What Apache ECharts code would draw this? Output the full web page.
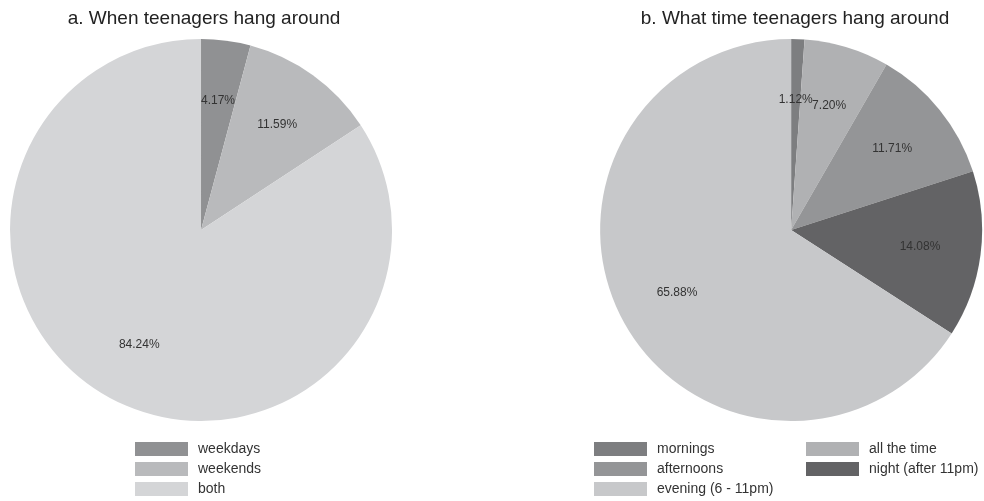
<!DOCTYPE html>
<html>
<head>
<meta charset="utf-8">
<script src="https://cdn.jsdelivr.net/npm/echarts@6/dist/echarts.min.js"></script>
<style>html,body{margin:0;padding:0;background:#fff}#c{width:984px;height:501px}</style>
</head>
<body>
<div id="c"></div>
<script>
const titleA = 'a. When teenagers hang around';
const titleB = 'b. What time teenagers hang around';
const catsA = ['weekdays', 'weekends', 'both'];
const valsA = [4.17, 11.59, 84.24];
const colorsA = ['#909193', '#b9babc', '#d4d5d7'];
const catsB = ['mornings', 'all the time', 'afternoons', 'night (after 11pm)', 'evening (6 - 11pm)'];
const valsB = [1.12, 7.20, 11.71, 14.08, 65.88];
const colorsB = ['#7d7e80', '#b0b1b3', '#949597', '#636365', '#c7c8ca'];
const legendBCol1 = ['mornings', 'afternoons', 'evening (6 - 11pm)'];
const legendBCol2 = ['all the time', 'night (after 11pm)'];

const FONT = '"Liberation Sans", Arial, sans-serif';
function mainData(cats, vals, colors) {
  return cats.map((n, i) => ({ name: n, value: vals[i], itemStyle: { color: colors[i] } }));
}
function labelData(cats, vals) {
  return cats.map((n, i) => ({ name: n, value: vals[i] }));
}
function legendItems(names, cats, colors) {
  return names.map(n => ({ name: n, itemStyle: { color: colors[cats.indexOf(n)] } }));
}
const legendBase = {
  orient: 'vertical', itemWidth: 53, itemHeight: 14, itemGap: 6, icon: 'rect',
  selectedMode: false, padding: 0, height: 60,
  textStyle: { fontFamily: FONT, fontSize: 14, color: '#333', padding: [0, 0, 0, 5] }
};
const mainPie = (center, data) => ({
  type: 'pie', center: center, radius: [0, 191], startAngle: 90, clockwise: true,
  silent: true, label: { show: false }, labelLine: { show: false },
  itemStyle: { borderWidth: 0 }, data: data, animation: false
});
const labelPie = (center, data) => ({
  type: 'pie', center: center, radius: [63, 191], startAngle: 90, clockwise: true,
  silent: true, legendHoverLink: false, avoidLabelOverlap: false,
  minShowLabelAngle: 0,
  itemStyle: { color: 'rgba(0,0,0,0)', borderWidth: 0 },
  label: { show: true, position: 'inside', fontFamily: FONT, fontSize: 12, color: '#333',
    overflow: 'none', formatter: p => p.value.toFixed(2) + '%' },
  labelLayout: { hideOverlap: false },
  labelLine: { show: false }, data: data, animation: false
});

const chart = echarts.init(document.getElementById('c'));
chart.setOption({
  backgroundColor: '#fff',
  animation: false,
  title: [
    { text: titleA, left: 199, top: 4, textAlign: 'center',
      textStyle: { fontFamily: FONT, fontSize: 19, fontWeight: 'normal', color: '#222' } },
    { text: titleB, left: 790, top: 4, textAlign: 'center',
      textStyle: { fontFamily: FONT, fontSize: 19, fontWeight: 'normal', color: '#222' } }
  ],
  legend: [
    Object.assign({}, legendBase, { left: 135, top: 442, data: legendItems(catsA, catsA, colorsA) }),
    Object.assign({}, legendBase, { left: 594, top: 442, data: legendItems(legendBCol1, catsB, colorsB) }),
    Object.assign({}, legendBase, { left: 806, top: 442, data: legendItems(legendBCol2, catsB, colorsB) })
  ],
  series: [
    mainPie(['20.43%', 230], mainData(catsA, valsA, colorsA)),
    mainPie(['80.4%', 230], mainData(catsB, valsB, colorsB)),
    labelPie(['20.43%', 230], labelData(catsA, valsA)),
    labelPie(['80.4%', 230], labelData(catsB, valsB))
  ]
});
</script>
</body>
</html>
